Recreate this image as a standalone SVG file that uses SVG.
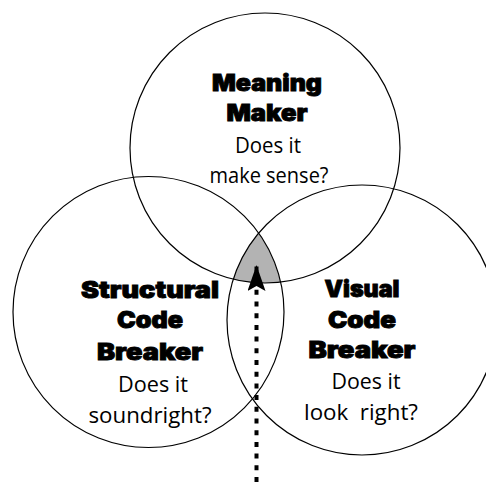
<svg xmlns="http://www.w3.org/2000/svg" width="486" height="482" viewBox="0 0 486 482">
<style>
.c{fill:none;stroke:#000;stroke-width:1.2}
.b{font-family:Inter,"Liberation Sans",sans-serif;font-weight:900;font-size:23px;fill:#000;stroke:#000;stroke-width:0.9;text-anchor:middle}
.n{font-family:"Open Sans","Noto Sans",sans-serif;font-size:22px;fill:#000;text-anchor:middle}
</style>
<defs>
<clipPath id="cL"><circle cx="148.5" cy="312" r="135.5"/></clipPath>
<clipPath id="cT"><circle cx="265" cy="148" r="135"/></clipPath>
<marker id="ah" viewBox="0 0 26 18" refX="26" refY="9" markerWidth="26" markerHeight="18" markerUnits="userSpaceOnUse" orient="auto">
<path d="M26 9 L0 0 L5 9 L0 18 Z" fill="#000"/>
</marker>
</defs>
<rect width="486" height="482" fill="#fff"/>
<g id="overlap">
<g clip-path="url(#cL)"><g clip-path="url(#cT)"><circle cx="362" cy="320" r="135" fill="#b3b3b3"/></g></g>
</g>
<g id="meaning-maker">
<circle class="c" cx="265" cy="148" r="135"/>
<text class="b" x="267" y="91" textLength="110" lengthAdjust="spacingAndGlyphs">Meaning</text>
<text class="b" x="267" y="121" textLength="81" lengthAdjust="spacingAndGlyphs">Maker</text>
<text class="n" x="268" y="153" textLength="66" lengthAdjust="spacingAndGlyphs">Does it</text>
<text class="n" x="269" y="183" textLength="119" lengthAdjust="spacingAndGlyphs">make sense?</text>
</g>
<g id="structural-code-breaker">
<circle class="c" cx="148.5" cy="312" r="135.5"/>
<text class="b" x="150" y="298" textLength="138" lengthAdjust="spacingAndGlyphs">Structural</text>
<text class="b" x="150" y="328" textLength="66" lengthAdjust="spacingAndGlyphs">Code</text>
<text class="b" x="150" y="360" textLength="106" lengthAdjust="spacingAndGlyphs">Breaker</text>
<text class="n" x="153" y="392" textLength="70" lengthAdjust="spacingAndGlyphs">Does it</text>
<text class="n" x="150" y="423" textLength="123" lengthAdjust="spacingAndGlyphs">soundright?</text>
</g>
<g id="visual-code-breaker">
<circle class="c" cx="362" cy="320" r="135"/>
<text class="b" x="362" y="297" textLength="75" lengthAdjust="spacingAndGlyphs">Visual</text>
<text class="b" x="362" y="328" textLength="68" lengthAdjust="spacingAndGlyphs">Code</text>
<text class="b" x="362" y="358" textLength="107" lengthAdjust="spacingAndGlyphs">Breaker</text>
<text class="n" x="366" y="389" textLength="69" lengthAdjust="spacingAndGlyphs">Does it</text>
<text class="n" x="361" y="420" textLength="114" lengthAdjust="spacingAndGlyphs" xml:space="preserve">look  right?</text>
</g>
<g id="connectors">
<line x1="256.5" y1="482" x2="256.5" y2="265" stroke="#000" stroke-width="4" stroke-dasharray="5 6.7" marker-end="url(#ah)"/>
</g>
</svg>
